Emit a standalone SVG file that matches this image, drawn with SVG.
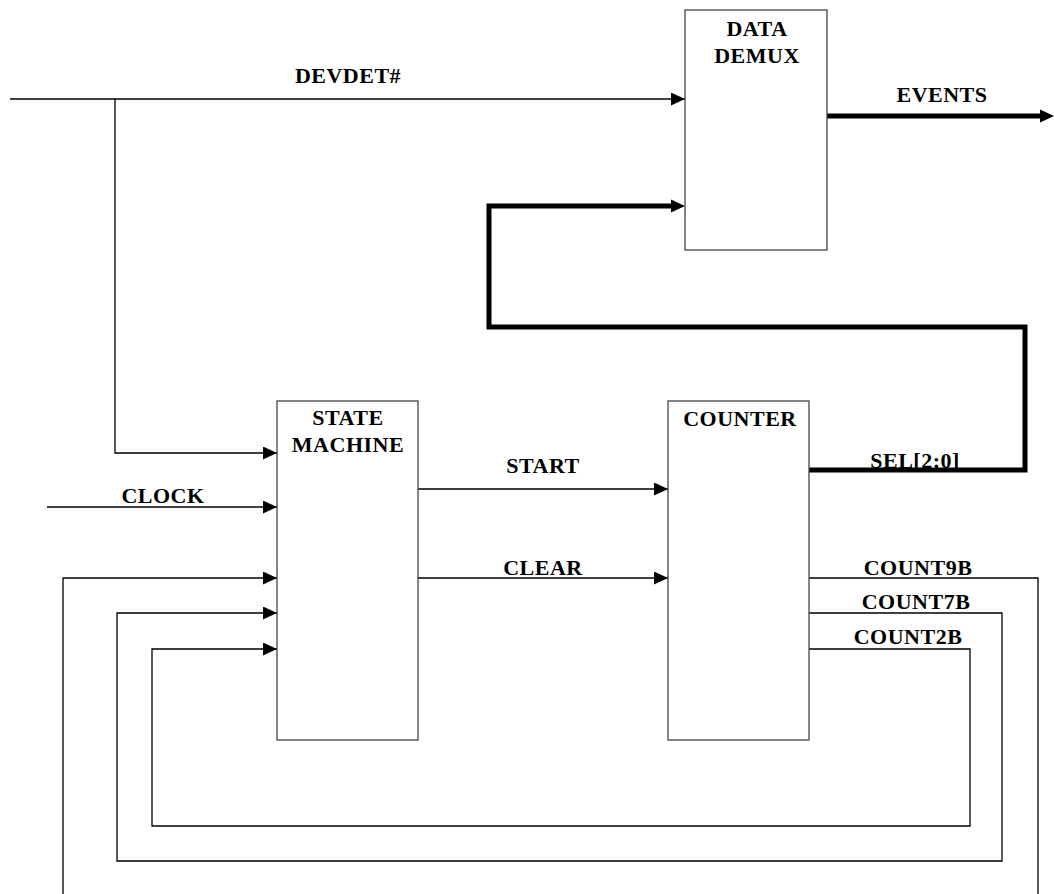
<svg xmlns="http://www.w3.org/2000/svg" width="1054" height="894" viewBox="0 0 1054 894">
<style>
.box{fill:#fff;stroke:#444;stroke-width:1.3}
.w{fill:none;stroke:#000;stroke-width:1.3}
.bus{fill:none;stroke:#000;stroke-width:5}
.t{font-family:"Liberation Serif","Times New Roman",serif;font-weight:bold;font-size:22px;fill:#000;text-anchor:middle;letter-spacing:0.5px}
</style>
<defs>
<marker id="ah" markerUnits="userSpaceOnUse" markerWidth="14" markerHeight="13" refX="14" refY="6.5" orient="auto">
<path d="M0,0 L14,6.5 L0,13 z" fill="#000"/>
</marker>
</defs>
<rect width="1054" height="894" fill="#fff"/>
<g id="connectors">
<path class="w" d="M10,99 H685" marker-end="url(#ah)"/>
<path class="w" d="M115,99 V453 H277" marker-end="url(#ah)"/>
<path class="w" d="M47,507 H277" marker-end="url(#ah)"/>
<path class="w" d="M809,578 H1038 V894"/>
<path class="w" d="M63,894 V578 H277" marker-end="url(#ah)"/>
<path class="w" d="M809,613 H1002 V861 H117 V613 H277" marker-end="url(#ah)"/>
<path class="w" d="M809,649 H970 V826 H152 V649 H277" marker-end="url(#ah)"/>
<path class="w" d="M418,489 H668" marker-end="url(#ah)"/>
<path class="w" d="M418,578 H668" marker-end="url(#ah)"/>
<path class="bus" d="M827,116 H1040"/>
<path d="M1040,109.5 L1054,116 L1040,122.5 z" fill="#000"/>
<path class="bus" d="M809,470 H1025 V327 H489 V206 H672"/>
<path d="M671,199.5 L685,206 L671,212.5 z" fill="#000"/>
<text class="t" x="348" y="83">DEVDET#</text>
<text class="t" x="942" y="102">EVENTS</text>
<text class="t" x="163" y="503">CLOCK</text>
<text class="t" x="543" y="473">START</text>
<text class="t" x="543" y="575">CLEAR</text>
<text class="t" x="915" y="468">SEL[2:0]</text>
<text class="t" x="918" y="575">COUNT9B</text>
<text class="t" x="916" y="609">COUNT7B</text>
<text class="t" x="908" y="644">COUNT2B</text>
</g>
<g id="data-demux">
<rect class="box" x="685" y="10" width="142" height="240"/>
<text class="t" x="757" y="36">DATA</text>
<text class="t" x="757" y="63">DEMUX</text>
</g>
<g id="state-machine">
<rect class="box" x="277" y="401" width="141" height="339"/>
<text class="t" x="348" y="425">STATE</text>
<text class="t" x="348" y="452">MACHINE</text>
</g>
<g id="counter">
<rect class="box" x="668" y="401" width="141" height="339"/>
<text class="t" x="740" y="426">COUNTER</text>
</g>
</svg>
